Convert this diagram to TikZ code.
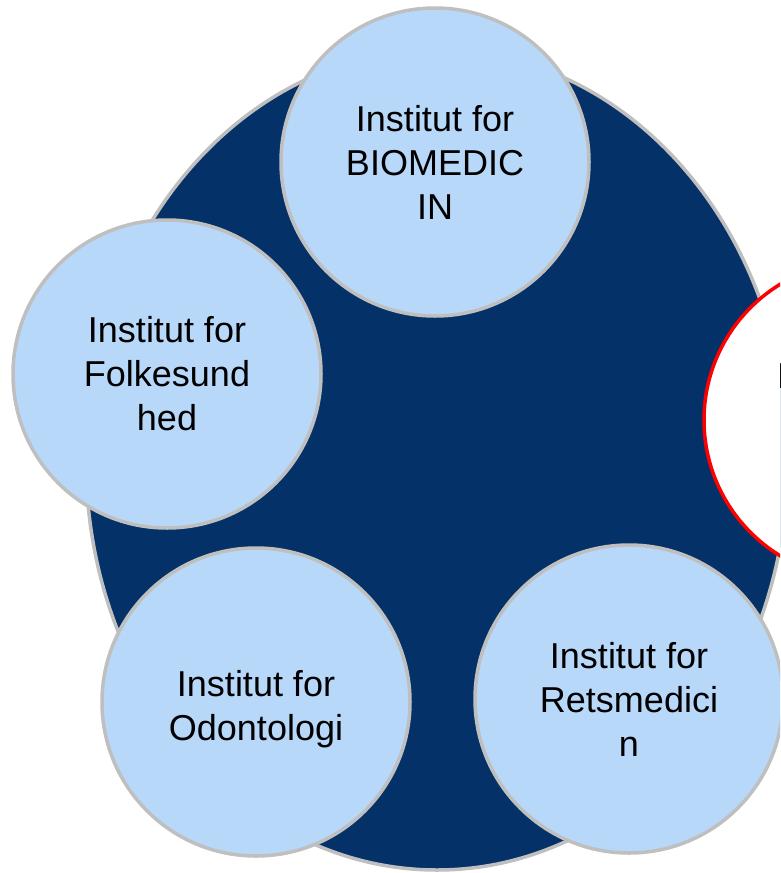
\documentclass[tikz,border=0pt]{standalone}
\usepackage{fontspec}
\setmainfont{Liberation Sans}
\definecolor{navy}{RGB}{3,49,104}
\definecolor{lightblue}{RGB}{184,216,250}
\definecolor{ringgray}{RGB}{191,191,191}
\begin{document}
\begin{tikzpicture}[x=1pt,y=-1pt,
  inst/.style={circle, draw=ringgray, line width=3.5pt, fill=lightblue,
    minimum size=308pt, inner sep=0pt, align=center,
    font=\fontsize{36}{44}\selectfont},
  label36/.style={align=center, inner sep=0pt, font=\fontsize{36}{44}\selectfont},
  redring/.style={circle, draw=red, line width=3.5pt, fill=white,
    minimum size=318pt, inner sep=0pt}]
\useasboundingbox (0,0) rectangle (780,873);
\clip (0,0) rectangle (780,873);
\draw[ringgray, fill=navy, line width=3.5pt] (437,460) ellipse [x radius=351pt, y radius=410pt];
\node[inst] (bio) at (435,162) {Institut for\\BIOMEDIC\\IN};
\node[inst] (folk) at (167,374) {Institut for\\Folkesund\\hed};
\node[inst] (odo) at (256,702) {};
\node[label36] (odotext) at (256,709) {Institut for\\Odontologi};
\node[inst] (ret) at (629,699) {Institut for\\Retsmedici\\n};
\node[redring] (klin) at (863,420) {};
\node[anchor=base, font=\fontsize{36}{44}\selectfont] (klintext) at (856,388) {Institut for};
\end{tikzpicture}
\end{document}
